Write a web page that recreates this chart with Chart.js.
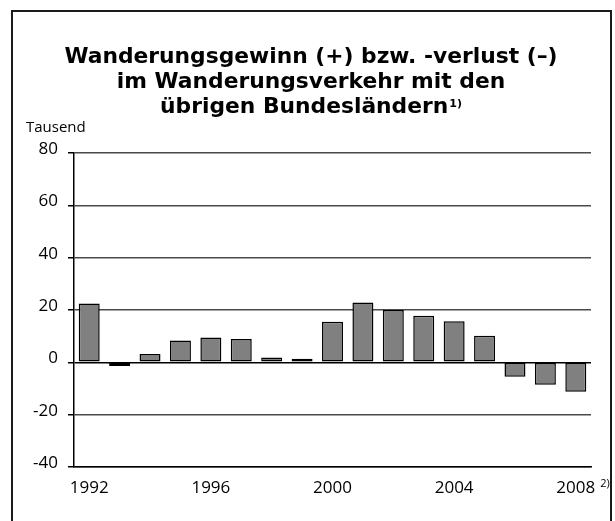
<!DOCTYPE html>
<html>
<head>
<meta charset="utf-8">
<script src="https://cdn.jsdelivr.net/npm/chart.js@4.4.0/dist/chart.umd.min.js"></script>
<style>
  html, body { margin: 0; padding: 0; background: #fff; }
</style>
</head>
<body>
<canvas id="grafica" width="615" height="521"></canvas>
<script type="text/javascript">

    // Jahre (Kategorien)
    var jahre = ['1992', '1993', '1994', '1995', '1996', '1997', '1998', '1999', '2000',
                 '2001', '2002', '2003', '2004', '2005', '2006', '2007', '2008']
    // Wanderungssaldo in Tausend
    var saldo = [22.5, -1.4, 3.2, 8.3, 9.5, 8.9, 1.8, 1.4, 15.5,
                 22.9, 20.0, 17.8, 15.7, 10.2, -5.5, -8.6, -11.2]
    var yMin = -40
    var yMax = 80
    var yStep = 20
    var titelZeilen = ['Wanderungsgewinn (+) bzw. -verlust (–)',
                       'im Wanderungsverkehr mit den',
                       'übrigen Bundesländern']
    var titelFussnote = '1)'
    var einheit = 'Tausend'
    var jahrFussnote = '2)'

    var schrift = '"Open Sans", "Noto Sans", sans-serif'
    var titelSchrift = 'bold 21.8px "DejaVu Sans", sans-serif'

    var rahmen = {
        id: 'rahmen',
        beforeDraw: function(chart) {
            var ctx = chart.ctx
            ctx.save()
            ctx.fillStyle = '#fff'
            ctx.fillRect(0, 0, chart.width, chart.height)
            ctx.strokeStyle = '#1a1a1a'
            ctx.lineWidth = 2
            ctx.strokeRect(12, 11, 599, 560)
            ctx.restore()
        },
        afterDraw: function(chart) {
            var ctx = chart.ctx
            ctx.save()
            ctx.fillStyle = '#000'
            ctx.textBaseline = 'alphabetic'

            // Titel
            var mitte = 311
            ctx.font = titelSchrift
            ctx.textAlign = 'center'
            ctx.fillText(titelZeilen[0], mitte, 63)
            ctx.fillText(titelZeilen[1], mitte, 88)
            var w3 = ctx.measureText(titelZeilen[2]).width
            ctx.font = 'bold 11px "DejaVu Sans", sans-serif'
            var wf = ctx.measureText(titelFussnote).width
            var start = mitte - (w3 + wf + 1) / 2
            ctx.textAlign = 'left'
            ctx.font = titelSchrift
            ctx.fillText(titelZeilen[2], start, 113)
            ctx.font = 'bold 11px "DejaVu Sans", sans-serif'
            ctx.fillText(titelFussnote, start + w3 + 1, 107)

            // Einheit
            ctx.font = '15px ' + schrift
            ctx.textAlign = 'left'
            ctx.fillText(einheit, 26, 132)

            // Fussnote am letzten Jahr
            var xs = chart.scales.x
            var letzte = jahre.length - 1
            var xl = xs.getPixelForTick(letzte)
            ctx.font = '17px ' + schrift
            var wl = ctx.measureText(jahre[letzte]).width
            ctx.font = '11px ' + schrift
            ctx.fillText(jahrFussnote, xl + wl / 2 + 5, 487)
            ctx.restore()
        }
    }

    var canvas = document.getElementById('grafica')
    var context = canvas.getContext('2d')

    window.bar = new Chart(context, {
        type: 'bar',
        data: {
            labels: jahre,
            datasets: [{
                label: 'Saldo',
                data: saldo,
                backgroundColor: '#808080',
                borderColor: '#000',
                borderWidth: 1.5,
                borderSkipped: false,
                categoryPercentage: 1.0,
                barPercentage: 0.69
            }]
        },
        options: {
            responsive: false,
            animation: false,
            layout: {
                padding: { top: 153, right: 24, left: 0, bottom: 0 }
            },
            plugins: {
                legend: { display: false },
                title: { display: false },
                tooltip: { enabled: false }
            },
            scales: {
                x: {
                    afterFit: function(scale) { scale.height = 54 },
                    grid: { drawOnChartArea: false, drawTicks: false, color: 'rgba(0,0,0,0)' },
                    border: { display: true, color: '#000', width: 1.5 },
                    ticks: {
                        autoSkip: false,
                        maxRotation: 0,
                        padding: 11,
                        color: '#000',
                        font: { family: schrift, size: 17 },
                        callback: function(val, index) {
                            return index % 4 === 0 ? jahre[index] : ''
                        }
                    }
                },
                y: {
                    min: yMin,
                    max: yMax,
                    afterFit: function(scale) { scale.width = 74 },
                    grid: {
                        color: function(c) { return c.tick && c.tick.value === 0 ? '#000' : '#4a4a4a' },
                        lineWidth: 1.5,
                        tickLength: 6,
                        tickColor: '#000'
                    },
                    border: { display: true, color: '#000', width: 1.5 },
                    ticks: {
                        stepSize: yStep,
                        padding: 10,
                        labelOffset: -4,
                        color: '#000',
                        font: { family: schrift, size: 17 }
                    }
                }
            }
        },
        plugins: [rahmen]
    })

</script>
</body>
</html>
